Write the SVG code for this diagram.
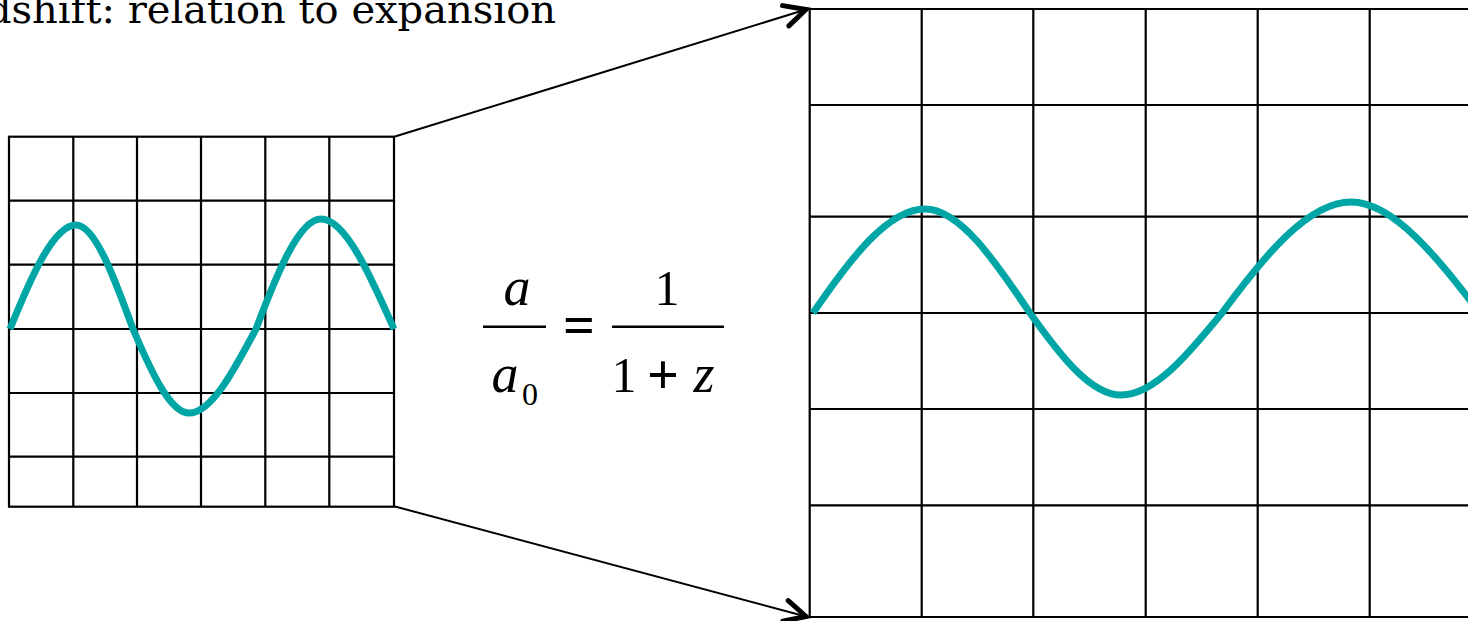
<svg xmlns="http://www.w3.org/2000/svg" width="1468" height="621" viewBox="0 0 1468 621">
  <style>
    .grid { stroke: #000; stroke-width: 2.2; fill: none; }
    .wave { stroke: #00a6a6; stroke-width: 7; fill: none; stroke-linecap: butt; stroke-linejoin: round; }
    .conn { stroke: #000; stroke-width: 2; fill: none; }
    .title { font-family: "DejaVu Serif", serif; font-size: 40px; fill: #000; }
    .math { font-family: "Liberation Serif", "Times New Roman", serif; font-size: 50px; fill: #000; }
    .it { font-style: italic; }
  </style>
  <defs>
    <marker id="arrow" markerUnits="userSpaceOnUse" markerWidth="30" markerHeight="30" viewBox="-20 -12 24 24" refX="0" refY="0" orient="auto">
      <path d="M -17 -8.5 L 0 0 L -17 8.5" fill="none" stroke="#000" stroke-width="4" stroke-linecap="round" stroke-linejoin="miter"/>
    </marker>
  </defs>

  <rect width="1468" height="621" fill="#fff"/>

  <g id="title">
    <text class="title" x="556" y="23" text-anchor="end">Redshift: relation to expansion</text>
  </g>

  <g id="small-grid">
    <rect class="grid" x="9" y="136.7" width="385" height="370"/>
    <path class="grid" d="M73.3 136.7V506.7 M137 136.7V506.7 M201 136.7V506.7 M265.3 136.7V506.7 M329.3 136.7V506.7
      M9 200.7H394 M9 264.7H394 M9 329H394 M9 393H394 M9 456.7H394"/>
    <path class="wave" d="M10 329 C31.5 275.8 53.9 225 76 225 C95.1 225 114.4 278.2 133 329 C151.2 371.9 170.3 413 189 413 C211.4 413 234.2 370.1 256 329 C277.2 272.8 299.3 219 321 219 C345.4 219 370.2 275.2 394 329"/>
  </g>

  <g id="large-grid">
    <path class="grid" d="M809.7 9V617 M921.7 9V617 M1033.3 9V617 M1145.7 9V617 M1257.7 9V617 M1369.7 9V617
      M809.7 9H1468 M809.7 105H1468 M809.7 216.7H1468 M809.7 313H1468 M809.7 409H1468 M809.7 505.3H1468 M809.7 617H1468"/>
    <path class="wave" d="M813 313 C849.5 259.8 887.5 209 925 209 C960.1 209 995.8 262.2 1030 313 C1059.6 354.9 1090.6 395 1121 395 C1154.8 395 1189.1 353.1 1222 313 C1264 256.3 1307.9 202 1351 202 C1394.1 202 1438 258.7 1480 313"/>
  </g>

  <g id="connectors">
    <line class="conn" x1="395" y1="136.5" x2="806" y2="9.5" marker-end="url(#arrow)"/>
    <line class="conn" x1="395" y1="506.5" x2="806" y2="616.5" marker-end="url(#arrow)"/>
  </g>

  <g id="formula">
    <text class="math it" x="517" y="305" text-anchor="middle" style="font-size:54px">a</text>
    <line x1="483" y1="326.7" x2="546" y2="326.7" stroke="#000" stroke-width="2.6"/>
    <text class="math it" x="505" y="392" text-anchor="middle" style="font-size:54px">a</text>
    <text class="math" x="530" y="405" text-anchor="middle" style="font-size:32px">0</text>
    <text class="math" x="579" y="344" text-anchor="middle" style="font-size:56px;font-weight:bold">=</text>
    <text class="math" x="667" y="305" text-anchor="middle">1</text>
    <line x1="612" y1="326.7" x2="724" y2="326.7" stroke="#000" stroke-width="2.6"/>
    <text class="math" x="624" y="392" text-anchor="middle">1</text>
    <text class="math" x="663" y="394" text-anchor="middle" style="font-size:56px;font-weight:bold">+</text>
    <text class="math it" x="704" y="392" text-anchor="middle" style="font-size:54px">z</text>
  </g>
</svg>
